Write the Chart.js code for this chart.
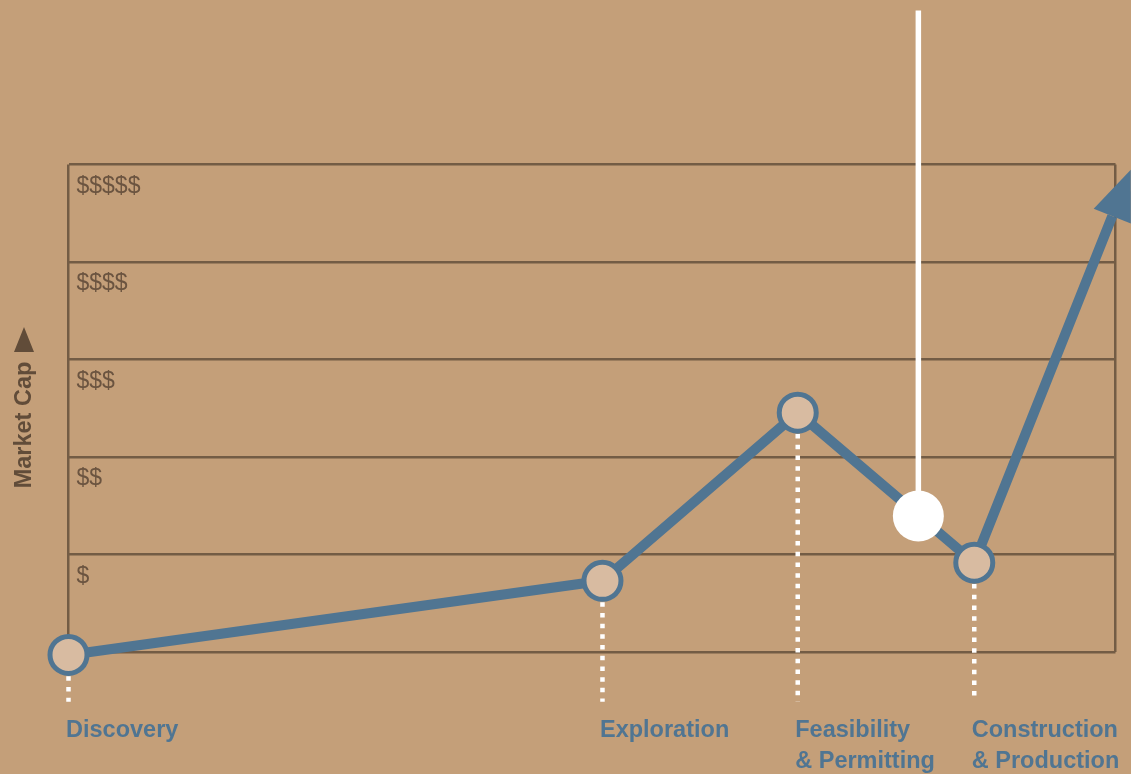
<!DOCTYPE html>
<html><head><meta charset="utf-8">
<script src="https://cdn.jsdelivr.net/npm/chart.js@4.4.1/dist/chart.umd.min.js"></script>
<style>
html,body{margin:0;padding:0;background:#C49F79;width:1131px;height:774px;overflow:hidden;}
#wrap{position:relative;width:1131px;height:774px;}
canvas{position:absolute;left:0;top:0;}
#ytitle{position:absolute;left:23px;top:425px;transform:translate(-50%,-50%) rotate(-90deg);font:bold 23.5px "Liberation Sans",Arial,sans-serif;color:#614C39;white-space:nowrap;}
#yarrow{position:absolute;left:14px;top:327px;width:0;height:0;border-left:10px solid transparent;border-right:10px solid transparent;border-bottom:25px solid #614C39;}
</style></head>
<body><div id="wrap"><canvas id="c" width="1131" height="774"></canvas><div id="ytitle">Market Cap</div><div id="yarrow"></div></div>
<script>
// ---- data ----
const STAGE_LABELS = ['Discovery', 'Exploration', ['Feasibility', '& Permitting'], ['Construction', '& Production']];
const STAGE_X = [0, 51, 69.65, 86.51];
const STAGE_CAP = [-0.03, 0.73, 2.455, 0.916];
const ARROW_END = { x: 99.69, y: 4.47 };
const CAP_TICKS = [0, 1, 2, 3, 4, 5];
const CAP_LABELS = ['', '$', '$$', '$$$', '$$$$', '$$$$$'];
const MARKER_X = 81.17, MARKER_Y = 1.395, MARKER_LINE_TOP = 6.58;
const DROP_BOTTOM = -0.51;
const X_EDGES = [0, 100];

// ---- styles ----
const BLUE = '#507592';
const BROWN = '#735C45';
const LABEL_BROWN = '#6B5440';
const FILL = '#D8BBA1';
const FONT = '"Liberation Sans", Arial, sans-serif';

const mainData = STAGE_X.map((x, i) => ({ x, y: STAGE_CAP[i] })).concat([ARROW_END]);

const datasets = [
  { data: [{ x: MARKER_X, y: MARKER_Y }], showLine: false, pointRadius: 25.5, pointBackgroundColor: '#ffffff', pointBorderWidth: 0, clip: false },
  { data: [{ x: MARKER_X, y: MARKER_Y }, { x: MARKER_X, y: MARKER_LINE_TOP }], showLine: true, borderColor: '#ffffff', borderWidth: 5.5, pointRadius: 0, clip: false },
  { data: mainData, showLine: true, borderColor: BLUE, borderWidth: 10, borderJoinStyle: 'round',
    pointRadius: mainData.map((_, i) => i < STAGE_X.length ? 18.5 : 0), pointBorderWidth: 5,
    pointBorderColor: BLUE, pointBackgroundColor: FILL, clip: false }
].concat(STAGE_X.map((x, i) => ({
  data: [{ x, y: STAGE_CAP[i] }, { x, y: DROP_BOTTOM }], showLine: true, borderColor: '#ffffff',
  borderWidth: 4.5, borderDash: [4.5, 6.2], pointRadius: 0, clip: false
})));

const arrowHead = {
  id: 'arrowHead',
  afterDatasetsDraw(chart) {
    const pts = chart.getDatasetMeta(2).data;
    const a = pts[pts.length - 2], b = pts[pts.length - 1];
    const dx = b.x - a.x, dy = b.y - a.y, L = Math.hypot(dx, dy);
    const ux = dx / L, uy = dy / L, len = 50, half = 20;
    const ctx = chart.ctx;
    ctx.save();
    ctx.beginPath();
    ctx.moveTo(b.x + ux * len, b.y + uy * len);
    ctx.lineTo(b.x - uy * half, b.y + ux * half);
    ctx.lineTo(b.x + uy * half, b.y - ux * half);
    ctx.closePath();
    ctx.fillStyle = BLUE;
    ctx.fill();
    ctx.restore();
  }
};

new Chart(document.getElementById('c'), {
  type: 'scatter',
  data: { datasets },
  options: {
    responsive: false,
    animation: false,
    events: [],
    layout: { autoPadding: false, padding: { left: 68.5, right: 15.5, top: 164.5, bottom: 0 } },
    plugins: { legend: { display: false }, tooltip: { enabled: false } },
    scales: {
      x: {
        type: 'linear', min: 0, max: 100,
        afterBuildTicks: s => { s.ticks = [...new Set(X_EDGES.concat(STAGE_X))].sort((p, q) => p - q).map(v => ({ value: v })); },
        afterFit: s => { s.height = 122; s.paddingLeft = 0; s.paddingRight = 0; },
        border: { display: false },
        grid: { drawTicks: false, lineWidth: 2.5, color: c => (c.tick && X_EDGES.includes(c.tick.value)) ? BROWN : 'rgba(0,0,0,0)' },
        ticks: {
          autoSkip: false, maxRotation: 0, minRotation: 0, align: 'start', padding: 63, labelOffset: -2.5,
          color: BLUE, font: { family: FONT, size: 23.5, weight: 'bold', lineHeight: 1.32 },
          callback: v => { const i = STAGE_X.indexOf(v); return i >= 0 ? STAGE_LABELS[i] : ''; }
        }
      },
      y: {
        type: 'linear', min: 0, max: 5,
        afterBuildTicks: s => { s.ticks = CAP_TICKS.map(v => ({ value: v })); },
        afterFit: s => { s.width = 0; s.paddingTop = 0; s.paddingBottom = 0; },
        border: { display: false },
        grid: { drawTicks: false, lineWidth: 2.5, color: BROWN },
        ticks: {
          mirror: true, align: 'start', padding: 8, labelOffset: 10.5,
          color: LABEL_BROWN, font: { family: FONT, size: 23 },
          callback: v => CAP_LABELS[CAP_TICKS.indexOf(v)]
        }
      }
    }
  },
  plugins: [arrowHead]
});
</script>
</body></html>
